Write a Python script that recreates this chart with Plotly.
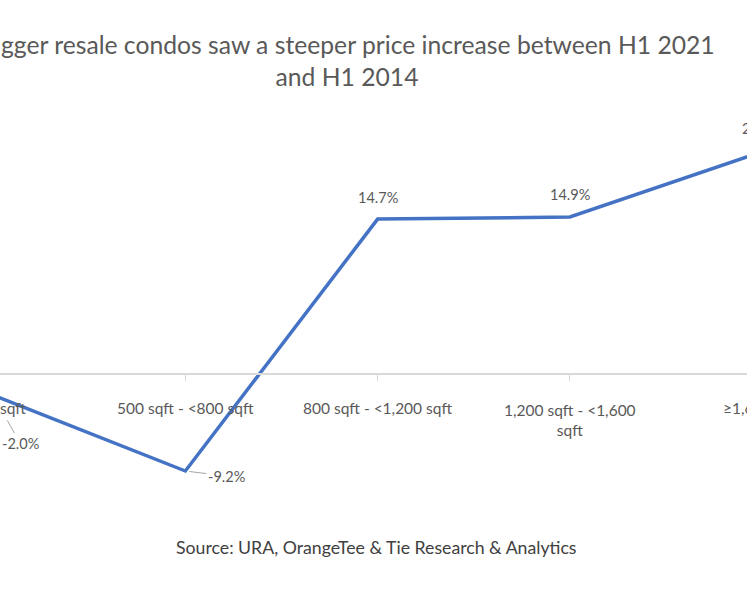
import plotly.graph_objects as go

# unit size bands and H1 2014 -> H1 2021 resale price change (%)
categories = ["<500 sqft", "500 sqft - <800 sqft", "800 sqft - <1,200 sqft",
              "1,200 sqft - <1,600 sqft", "≥1,600 sqft"]
tick_labels = ["<500 sqft", "500 sqft - <800 sqft", "800 sqft - <1,200 sqft",
               "1,200 sqft - <1,600<br>sqft", "≥1,600 sqft"]
price_change = [-2.0, -9.2, 14.7, 14.9, 21.1]

title_text = ("Bigger resale condos saw a steeper price increase between H1 2021"
              "<br>and H1 2014")
source_text = "Source: URA, OrangeTee & Tie Research & Analytics"

W, H = 747, 598
T, B = 100, 98
x_lo, x_hi = 0.036, 3.921   # the chart is a crop, both end points fall off the edges
y_lo, y_hi = -11.95, 26.0
px_cat = W / (x_hi - x_lo)
px_pct = (H - T - B) / (y_hi - y_lo)
zero_pos = (0 - y_lo) / (y_hi - y_lo)

FONT = "Lato, Open Sans, sans-serif"
GREY = "#595959"

fig = go.Figure()
fig.add_trace(go.Scatter(
    x=list(range(len(categories))), y=price_change,
    mode="lines", line=dict(color="#4472C4", width=3.5),
    hoverinfo="skip", showlegend=False,
))


def add_label(i, y, text, dx, dy, size, lead=False, standoff=0):
    # label centred dx/dy pixels away from (category i, y); the tail is kept
    # inside the axis range so plotly still draws labels of clipped points
    tx = i + dx / px_cat
    cx = min(max(tx, x_lo + 0.005), x_hi - 0.005)
    fig.add_annotation(
        x=i, y=y, text=text, showarrow=True,
        axref="x", ax=cx, ayref="y", ay=y - dy / px_pct,
        xshift=(tx - cx) * px_cat,
        arrowhead=0, arrowwidth=1,
        arrowcolor="#a6a6a6" if lead else "rgba(0,0,0,0)",
        standoff=standoff, font=dict(family=FONT, size=size, color=GREY),
    )


# data labels (the two negative ones have leader lines, like Excel)
label_offsets = [(27, 48, 29), (41, 5, 4), (0, -22, 0), (0, -23, 0), (0, -23, 0)]
for i, v in enumerate(price_change):
    dx, dy, so = label_offsets[i]
    add_label(i, v, f"{v:.1f}%", dx, dy, 14.5, lead=v < 0, standoff=so)

# category labels sit just under the zero axis
for i, lab in enumerate(tick_labels):
    n_lines = lab.count("<br>") + 1
    add_label(i, 0, lab, 0, 34 + 11.5 * (n_lines - 1), 15.5)

fig.add_annotation(
    xref="paper", yref="paper", x=377 / W, y=-(547 - (H - B)) / (H - T - B),
    yanchor="middle", text=source_text,
    showarrow=False, font=dict(family=FONT, size=17.7, color="#404040"),
)

fig.update_layout(
    width=W, height=H,
    margin=dict(l=0, r=0, t=T, b=B),
    plot_bgcolor="white", paper_bgcolor="white",
    title=dict(text=title_text, x=347 / W, xanchor="center", xref="container",
               y=1 - 54 / H, yanchor="middle", yref="container",
               font=dict(family=FONT, size=24.7, color=GREY)),
    xaxis=dict(range=[x_lo, x_hi], showgrid=False, zeroline=False,
               anchor="free", position=zero_pos, showline=True,
               linecolor="#d9d9d9", linewidth=1.5, ticks="outside",
               ticklen=6, tickcolor="#d9d9d9", tickwidth=1,
               tickvals=list(range(len(categories))), showticklabels=False),
    yaxis=dict(range=[y_lo, y_hi], visible=False, domain=[0, 1]),
)

# the page's default 8px body margin would push the crop off the window
fig.write_html("out.html", config={"displayModeBar": False},
               post_script="document.body.style.margin='0';")
